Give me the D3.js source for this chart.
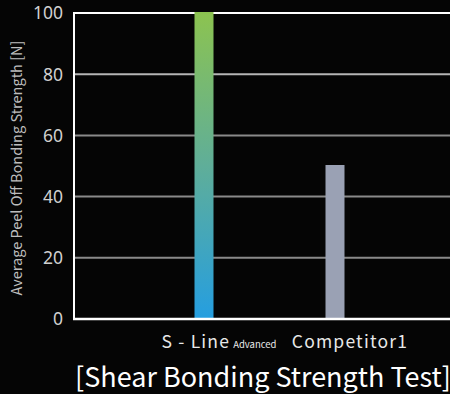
<!DOCTYPE html>
<html><head><meta charset="utf-8">
<script src="https://cdn.jsdelivr.net/npm/d3@7"></script>
<style>
html,body{margin:0;padding:0;background:#050505;}
svg{display:block;}
text{font-family:"Noto Sans CJK JP","Noto Sans",sans-serif;}
text.tick{font-family:"Noto Sans",sans-serif;}
</style></head><body>
<svg id="c" width="450" height="394"></svg>
<script>
const categories = ["S - Line", "Competitor1"];
const subLabels = ["Advanced", ""];
const values = [100, 50];
const yTicks = [0, 20, 40, 60, 80, 100];
const yTitle = "Average Peel Off Bonding Strength [N]";
const title = "[Shear Bonding Strength Test]";

const svg = d3.select("#c");
const W = 450, H = 394;
const m = {l: 74, r: 0, t: 13, b: 75};
const x = d3.scaleBand().domain(categories).range([153.5, 415.5]).paddingInner(0).paddingOuter(0);
const y = d3.scaleLinear().domain([0, 100]).range([319, 13]);

svg.append("rect").attr("width", W).attr("height", H).attr("fill", "#050505");

const defs = svg.append("defs");
const g1 = defs.append("linearGradient").attr("id", "g1")
  .attr("gradientUnits", "userSpaceOnUse")
  .attr("x1", 0).attr("x2", 0).attr("y1", y(100)).attr("y2", y(0));
g1.append("stop").attr("offset", "0%").attr("stop-color", "#8cc350");
g1.append("stop").attr("offset", "50%").attr("stop-color", "#5fae99");
g1.append("stop").attr("offset", "100%").attr("stop-color", "#259ee0");

// grid
const gridCol = {0: "#ffffff", 20: "#8a8a8a", 40: "#8a8a8a", 60: "#8a8a8a", 80: "#b5b5b5", 100: "#ffffff"};
svg.append("g").selectAll("line").data(yTicks.filter(d => d > 0)).join("line")
  .attr("x1", m.l).attr("x2", W)
  .attr("y1", d => y(d)).attr("y2", d => y(d))
  .attr("stroke", d => gridCol[d]).attr("stroke-width", 2);

// bars
const barW = 19, off = -15;
svg.append("g").selectAll("rect").data(values).join("rect")
  .attr("x", (d, i) => x(categories[i]) + x.bandwidth() / 2 + off - barW / 2)
  .attr("width", barW)
  .attr("y", d => y(d) - 1)
  .attr("height", d => y(0) - y(d) + 1)
  .attr("fill", (d, i) => i === 0 ? "url(#g1)" : "#9aa1b4");

// axes lines
svg.append("line").attr("x1", m.l).attr("x2", m.l).attr("y1", y(100) - 1).attr("y2", y(0) + 1)
  .attr("stroke", "#fff").attr("stroke-width", 2);
svg.append("line").attr("x1", m.l - 1).attr("x2", W).attr("y1", y(0)).attr("y2", y(0))
  .attr("stroke", "#fff").attr("stroke-width", 2.5);

// y tick labels
svg.append("g").selectAll("text").data(yTicks).join("text")
  .attr("class", "tick")
  .attr("x", 63).attr("y", d => y(d)).attr("dy", "0.36em")
  .attr("text-anchor", "end").attr("fill", "#d0d0d0").attr("font-size", 17.5)
  .text(d => d);

// y title
svg.append("text").attr("transform", `translate(22,${(y(0) + y(100)) / 2 + 2}) rotate(-90)`)
  .attr("text-anchor", "middle").attr("fill", "#bdbdbd").attr("font-size", 14.5)
  .text(yTitle);

// x labels
const xl = svg.append("g").selectAll("text").data(categories).join("text")
  .attr("x", d => x(d) + x.bandwidth() / 2)
  .attr("y", 348).attr("text-anchor", "middle").attr("fill", "#e8e8e8").attr("font-size", 17.5)
  .attr("letter-spacing", 1.2);
xl.append("tspan").text(d => d);
xl.append("tspan").attr("font-size", 9.5).attr("letter-spacing", 0).attr("dx", (d, i) => subLabels[i] ? 3 : 0).text((d, i) => subLabels[i]);

// title
svg.append("text").attr("x", 263).attr("y", 387).attr("text-anchor", "middle")
  .attr("fill", "#ffffff").attr("font-size", 27).text(title);
</script>
</body></html>
